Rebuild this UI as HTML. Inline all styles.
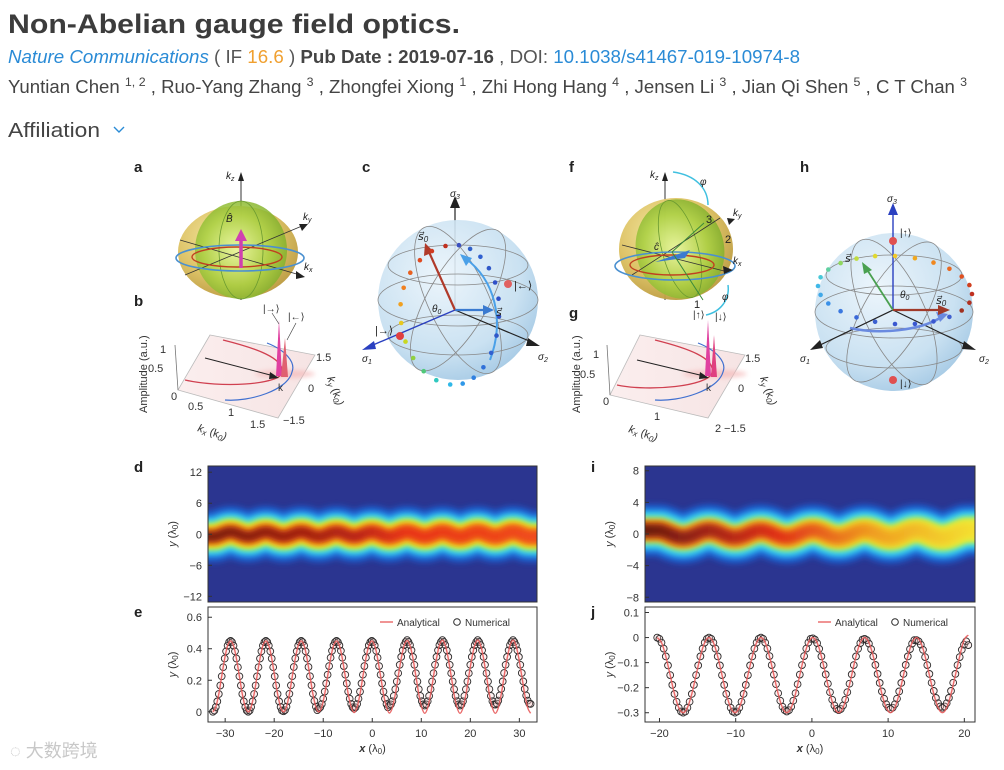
<!DOCTYPE html>
<html><head><meta charset="utf-8"><style>
html,body{margin:0;padding:0;background:#fff;}
svg{display:block;font-family:"Liberation Sans","Noto Sans CJK SC",sans-serif;}
</style></head><body>
<svg id="root" width="1004" height="770" viewBox="0 0 1004 770" xmlns="http://www.w3.org/2000/svg">
<defs>
<radialGradient id="gYel" cx="0.4" cy="0.35" r="0.7"><stop offset="0" stop-color="#f4e9a0"/><stop offset="0.6" stop-color="#dcc060"/><stop offset="1" stop-color="#b8963a"/></radialGradient>
<radialGradient id="gGrn" cx="0.45" cy="0.5" r="0.6"><stop offset="0" stop-color="#e8f8a0"/><stop offset="0.6" stop-color="#a8d040"/><stop offset="1" stop-color="#78a828"/></radialGradient>
<radialGradient id="gBlu" cx="0.4" cy="0.35" r="0.7"><stop offset="0" stop-color="#eaf4fb"/><stop offset="0.7" stop-color="#c4def0"/><stop offset="1" stop-color="#9cc4e2"/></radialGradient>
<linearGradient id="gPlane" x1="0" y1="0" x2="1" y2="0"><stop offset="0" stop-color="#fbeeee"/><stop offset="1" stop-color="#f6e4e4"/></linearGradient>
<filter id="blur" filterUnits="userSpaceOnUse" x="150" y="420" width="880" height="230"><feGaussianBlur stdDeviation="3"/></filter>
<filter id="blur2" filterUnits="userSpaceOnUse" x="200" y="340" width="600" height="70"><feGaussianBlur stdDeviation="2.5"/></filter>
<linearGradient id="coreD" gradientUnits="userSpaceOnUse" x1="208" y1="0" x2="537" y2="0"><stop offset="0" stop-color="#7a1a10"/><stop offset="0.45" stop-color="#b82212"/><stop offset="0.6" stop-color="#e83418"/><stop offset="1" stop-color="#f04a1a"/></linearGradient>
<linearGradient id="coreI" gradientUnits="userSpaceOnUse" x1="645" y1="0" x2="975" y2="0"><stop offset="0" stop-color="#6a1a10"/><stop offset="0.4" stop-color="#e03018"/><stop offset="0.7" stop-color="#f0a020"/><stop offset="1" stop-color="#f4e030"/></linearGradient>
<linearGradient id="midI" gradientUnits="userSpaceOnUse" x1="645" y1="0" x2="975" y2="0"><stop offset="0" stop-color="#f06a18"/><stop offset="0.6" stop-color="#f4c020"/><stop offset="1" stop-color="#f0e838"/></linearGradient>
<clipPath id="clipD"><rect x="208" y="466" width="329" height="136"/></clipPath>
<clipPath id="clipI"><rect x="645" y="466" width="330" height="136"/></clipPath>
</defs>

<!-- header -->
<text x="8" y="33" font-size="27" font-weight="bold" fill="#3c3c3c" textLength="452" lengthAdjust="spacingAndGlyphs">Non-Abelian gauge field optics.</text>
<text x="8" y="63" font-size="18" fill="#555" textLength="792" lengthAdjust="spacingAndGlyphs"><tspan fill="#2a8bd6" font-style="italic">Nature Communications</tspan> ( IF <tspan fill="#f0a030">16.6</tspan> ) <tspan font-weight="bold" fill="#444">Pub Date : 2019-07-16</tspan> , DOI: <tspan fill="#2a8bd6">10.1038/s41467-019-10974-8</tspan></text>
<text x="8" y="93" font-size="18" fill="#444" textLength="959" lengthAdjust="spacingAndGlyphs">Yuntian Chen <tspan font-size="12" dy="-7">1, 2</tspan><tspan dy="7"> , Ruo-Yang Zhang </tspan><tspan font-size="12" dy="-7">3</tspan><tspan dy="7"> , Zhongfei Xiong </tspan><tspan font-size="12" dy="-7">1</tspan><tspan dy="7"> , Zhi Hong Hang </tspan><tspan font-size="12" dy="-7">4</tspan><tspan dy="7"> , Jensen Li </tspan><tspan font-size="12" dy="-7">3</tspan><tspan dy="7"> , Jian Qi Shen </tspan><tspan font-size="12" dy="-7">5</tspan><tspan dy="7"> , C T Chan </tspan><tspan font-size="12" dy="-7">3</tspan></text>
<g><text x="8" y="137" font-size="20" fill="#444" textLength="92" lengthAdjust="spacingAndGlyphs">Affiliation</text><polyline points="114,127 119,132 124,127" fill="none" stroke="#2a8bd6" stroke-width="1.4"/></g>

<!-- panel labels -->
<g font-weight="bold" font-size="15" fill="#222">
<text x="134" y="172">a</text><text x="134" y="306">b</text><text x="362" y="172">c</text>
<text x="569" y="172">f</text><text x="569" y="318">g</text><text x="800" y="172">h</text>
<text x="134" y="472">d</text><text x="134" y="617">e</text><text x="591" y="472">i</text><text x="591" y="617">j</text>
</g>

<!-- panel a -->
<g>
<line x1="241" y1="300" x2="241" y2="178" stroke="#333" stroke-width="1"/>
<polygon points="241,172 238,181 244,181" fill="#222"/>
<ellipse cx="238" cy="252" rx="60" ry="46" fill="url(#gYel)" opacity="0.95"/>
<ellipse cx="241" cy="250" rx="46" ry="49" fill="url(#gGrn)" opacity="0.85"/>
<ellipse cx="241" cy="250" rx="22" ry="49" fill="none" stroke="#6a9a30" stroke-width="0.8"/>
<line x1="180" y1="240" x2="300" y2="275" stroke="#333" stroke-width="0.8"/>
<line x1="185" y1="275" x2="302" y2="226" stroke="#333" stroke-width="0.8"/>
<ellipse cx="240" cy="258" rx="64" ry="13" fill="none" stroke="#4a90d0" stroke-width="1.6"/>
<ellipse cx="237" cy="257" rx="45" ry="10" fill="none" stroke="#c04020" stroke-width="1.4"/>
<line x1="241" y1="268" x2="241" y2="238" stroke="#d040b0" stroke-width="3.5"/>
<polygon points="241,229 235,241 247,241" fill="#d040b0"/>
<polygon points="305,277 296,271 296,279" fill="#222"/>
<polygon points="308,224 299,224 302,231" fill="#222"/>
<text x="226" y="179" font-size="10" font-style="italic" fill="#222">k<tspan font-size="7" dy="2">z</tspan></text>
<text x="226" y="222" font-size="10" font-style="italic" fill="#222">B̂</text>
<text x="303" y="220" font-size="10" font-style="italic" fill="#222">k<tspan font-size="7" dy="2">y</tspan></text>
<text x="304" y="270" font-size="10" font-style="italic" fill="#222">k<tspan font-size="7" dy="2">x</tspan></text>
</g>

<!-- panel b -->
<g font-size="11" fill="#333">
<polygon points="210,335 315,355 278,418 178,390" fill="url(#gPlane)" stroke="#bbb" stroke-width="0.8"/>
<line x1="178" y1="390" x2="175" y2="345" stroke="#777" stroke-width="0.8"/>
<ellipse cx="285" cy="374" rx="30" ry="4" fill="#f4b8b8" opacity="0.7" filter="url(#blur2)"/>
<path d="M223,340 C255,348 285,358 282,373 C278,385 220,388 185,380" fill="none" stroke="#d04050" stroke-width="1.3"/>
<path d="M267,343 C285,350 296,362 292,372 C288,390 250,402 225,400" fill="none" stroke="#4070d0" stroke-width="1.2"/>
<line x1="205" y1="358" x2="274" y2="376" stroke="#222" stroke-width="1"/>
<polygon points="279,378 270,372 269,379" fill="#222"/>
<path d="M276,376 L279,320 L282,376 Z" fill="#e040a0"/>
<path d="M281,377 L285,338 L288,377 Z" fill="#e06070"/>
<line x1="272" y1="313" x2="279" y2="324" stroke="#333" stroke-width="0.6"/>
<line x1="296" y1="323" x2="287" y2="340" stroke="#333" stroke-width="0.6"/>
<text x="263" y="312" font-size="10">|→⟩</text><text x="288" y="320" font-size="10">|←⟩</text>
<text x="278" y="391" font-size="10">k</text>
<text x="160" y="353">1</text><text x="148" y="372">0.5</text><text x="171" y="400">0</text>
<text x="188" y="410">0.5</text><text x="228" y="416">1</text><text x="250" y="428">1.5</text>
<text x="316" y="361">1.5</text><text x="308" y="392">0</text><text x="283" y="424">−1.5</text>
<text transform="translate(147,413) rotate(-90)" font-size="11">Amplitude (a.u.)</text>
<text transform="translate(197,431) rotate(18)" font-size="11" font-style="italic">k<tspan font-size="8" dy="2">x</tspan><tspan dy="-2" font-style="normal"> (k</tspan><tspan font-size="8" dy="2">0</tspan><tspan dy="-2">)</tspan></text>
<text transform="translate(327,378) rotate(70)" font-size="11" font-style="italic">k<tspan font-size="8" dy="2">y</tspan><tspan dy="-2" font-style="normal"> (k</tspan><tspan font-size="8" dy="2">0</tspan><tspan dy="-2">)</tspan></text>
</g>

<!-- panel c -->
<g>
<line x1="455" y1="310" x2="455" y2="200" stroke="#222" stroke-width="1.2"/>
<polygon points="455,196 450,208 460,208" fill="#222"/>
<circle cx="458" cy="300" r="80" fill="url(#gBlu)" opacity="0.9"/>
<g fill="none" stroke="#888" stroke-width="0.8">
<ellipse cx="458" cy="300" rx="80" ry="26"/><ellipse cx="458" cy="265" rx="70" ry="20"/><ellipse cx="458" cy="335" rx="70" ry="20"/>
<ellipse cx="458" cy="300" rx="30" ry="80" transform="rotate(-25 458 300)"/><ellipse cx="458" cy="300" rx="30" ry="80" transform="rotate(30 458 300)"/>
</g>
<line x1="455" y1="310" x2="366" y2="348" stroke="#2a40c0" stroke-width="1.4"/>
<polygon points="362,350 374,341 376,349" fill="#2a40c0"/>
<line x1="455" y1="310" x2="534" y2="343" stroke="#222" stroke-width="1.2"/>
<polygon points="540,346 528,338 526,346" fill="#222"/>
<line x1="455" y1="310" x2="429" y2="252" stroke="#b03a2a" stroke-width="2.2"/>
<polygon points="425,243 424,256 434,252" fill="#b03a2a"/>
<line x1="455" y1="310" x2="485" y2="310" stroke="#3a7ad0" stroke-width="2.2"/>
<polygon points="494,310 483,305 483,315" fill="#3a7ad0"/>
<path d="M490,360 C505,320 495,280 465,258" fill="none" stroke="#4aa0e8" stroke-width="2"/>
<polygon points="460,254 472,258 466,266" fill="#4aa0e8"/>
<g id="dotsC"></g>
<circle cx="400" cy="336" r="4" fill="#e04040"/><circle cx="508" cy="284" r="4" fill="#e06060"/>
<text x="375" y="334" font-size="11" fill="#222">|→⟩</text><text x="514" y="289" font-size="11" fill="#222">|←⟩</text>
<text x="418" y="240" font-size="11" fill="#222" font-style="italic">s⃗<tspan font-size="8" dy="2">0</tspan></text>
<text x="496" y="316" font-size="11" fill="#222" font-style="italic">s⃗</text>
<text x="432" y="312" font-size="10" fill="#222" font-style="italic">θ<tspan font-size="7" dy="2">0</tspan></text>
<text x="450" y="197" font-size="10" fill="#222" font-style="italic">σ<tspan font-size="7" dy="2">3</tspan></text>
<text x="362" y="362" font-size="10" fill="#222" font-style="italic">σ<tspan font-size="7" dy="2">1</tspan></text>
<text x="538" y="360" font-size="10" fill="#222" font-style="italic">σ<tspan font-size="7" dy="2">2</tspan></text>
</g>

<!-- panel f -->
<g>
<line x1="665" y1="300" x2="665" y2="178" stroke="#333" stroke-width="1"/>
<polygon points="665,172 662,181 668,181" fill="#222"/>
<ellipse cx="676" cy="249" rx="57" ry="51" fill="url(#gYel)" opacity="0.95"/>
<ellipse cx="680" cy="249" rx="44" ry="50" fill="url(#gGrn)" opacity="0.85" transform="rotate(-15 680 249)"/>
<ellipse cx="680" cy="249" rx="18" ry="50" fill="none" stroke="#6a9a30" stroke-width="0.8" transform="rotate(-15 680 249)"/>
<line x1="622" y1="245" x2="728" y2="272" stroke="#333" stroke-width="0.8"/>
<line x1="632" y1="275" x2="720" y2="218" stroke="#333" stroke-width="0.8"/>
<ellipse cx="675" cy="266" rx="60" ry="14" fill="none" stroke="#4a90d0" stroke-width="1.6"/>
<ellipse cx="672" cy="265" rx="42" ry="10" fill="none" stroke="#c04020" stroke-width="1.4"/>
<path d="M655,262 L690,250 L685,258 Z" fill="#3a7ad0"/>
<path d="M673,172 C695,175 708,188 708,205" fill="none" stroke="#40c0e0" stroke-width="1.5"/>
<path d="M728,285 C730,300 720,312 706,315" fill="none" stroke="#40c0e0" stroke-width="1.5"/>
<line x1="672" y1="252" x2="704" y2="223" stroke="#3a8a3a" stroke-width="1"/>
<line x1="672" y1="252" x2="703" y2="300" stroke="#3a8a3a" stroke-width="1"/>
<polygon points="733,270 723,266 724,274" fill="#222"/>
<polygon points="735,219 727,218 729,225" fill="#222"/>
<text x="650" y="178" font-size="10" font-style="italic" fill="#222">k<tspan font-size="7" dy="2">z</tspan></text>
<text x="700" y="185" font-size="10" font-style="italic" fill="#222">φ</text>
<text x="722" y="300" font-size="10" font-style="italic" fill="#222">φ</text>
<text x="706" y="223" font-size="11" fill="#222">3</text><text x="725" y="243" font-size="11" fill="#222">2</text><text x="694" y="308" font-size="11" fill="#222">1</text>
<text x="733" y="216" font-size="10" font-style="italic" fill="#222">k<tspan font-size="7" dy="2">y</tspan></text>
<text x="733" y="264" font-size="10" font-style="italic" fill="#222">k<tspan font-size="7" dy="2">x</tspan></text>
<text x="654" y="250" font-size="10" font-style="italic" fill="#222">ĉ</text>
</g>

<!-- panel g -->
<g font-size="11" fill="#333">
<polygon points="640,335 745,355 708,418 610,395" fill="url(#gPlane)" stroke="#bbb" stroke-width="0.8"/>
<line x1="610" y1="395" x2="607" y2="345" stroke="#777" stroke-width="0.8"/>
<ellipse cx="715" cy="374" rx="32" ry="4" fill="#f4b8b8" opacity="0.7" filter="url(#blur2)"/>
<path d="M655,340 C687,348 716,358 712,373 C708,386 650,392 617,385" fill="none" stroke="#d04050" stroke-width="1.3"/>
<path d="M698,343 C716,350 727,362 723,372 C718,390 680,402 655,400" fill="none" stroke="#4070d0" stroke-width="1.2"/>
<line x1="637" y1="360" x2="704" y2="376" stroke="#222" stroke-width="1"/>
<polygon points="709,378 700,372 699,379" fill="#222"/>
<path d="M705,376 L708,320 L711,376 Z" fill="#e040a0"/>
<path d="M711,377 L714,335 L717,377 Z" fill="#e04080"/>
<text x="693" y="318" font-size="10">|↑⟩</text><text x="715" y="320" font-size="10">|↓⟩</text>
<text x="706" y="391" font-size="10">k</text>
<text x="593" y="358">1</text><text x="580" y="378">0.5</text><text x="603" y="405">0</text>
<text x="654" y="420">1</text><text x="715" y="432">2</text><text x="724" y="432">−1.5</text>
<text x="745" y="362">1.5</text><text x="738" y="392">0</text>
<text transform="translate(580,413) rotate(-90)" font-size="11">Amplitude (a.u.)</text>
<text transform="translate(628,432) rotate(18)" font-size="11" font-style="italic">k<tspan font-size="8" dy="2">x</tspan><tspan dy="-2" font-style="normal"> (k</tspan><tspan font-size="8" dy="2">0</tspan><tspan dy="-2">)</tspan></text>
<text transform="translate(760,378) rotate(70)" font-size="11" font-style="italic">k<tspan font-size="8" dy="2">y</tspan><tspan dy="-2" font-style="normal"> (k</tspan><tspan font-size="8" dy="2">0</tspan><tspan dy="-2">)</tspan></text>
</g>

<!-- panel h -->
<g>
<circle cx="894" cy="312" r="79" fill="url(#gBlu)" opacity="0.9"/>
<g fill="none" stroke="#888" stroke-width="0.8">
<ellipse cx="894" cy="312" rx="79" ry="26"/><ellipse cx="894" cy="275" rx="68" ry="20"/><ellipse cx="894" cy="348" rx="68" ry="20"/>
<ellipse cx="894" cy="312" rx="30" ry="79" transform="rotate(-25 894 312)"/><ellipse cx="894" cy="312" rx="30" ry="79" transform="rotate(30 894 312)"/>
</g>
<line x1="893" y1="310" x2="893" y2="210" stroke="#2a40c0" stroke-width="1.4"/>
<polygon points="893,203 888,215 898,215" fill="#2a40c0"/>
<line x1="893" y1="310" x2="816" y2="347" stroke="#222" stroke-width="1.2"/>
<polygon points="810,350 820,340 823,348" fill="#222"/>
<line x1="893" y1="310" x2="970" y2="347" stroke="#222" stroke-width="1.2"/>
<polygon points="976,350 964,341 962,349" fill="#222"/>
<path d="M850,328 C880,335 920,330 940,318" fill="none" stroke="#6a8ae0" stroke-width="2.5"/>
<polygon points="948,314 936,312 940,322" fill="#6a8ae0"/>
<g id="dotsH"></g>
<line x1="893" y1="310" x2="866" y2="268" stroke="#4aa050" stroke-width="1.8"/>
<polygon points="862,262 864,274 872,270" fill="#4aa050"/>
<line x1="893" y1="310" x2="940" y2="310" stroke="#a03a2a" stroke-width="2.2"/>
<polygon points="950,310 938,305 938,315" fill="#a03a2a"/>
<circle cx="893" cy="241" r="4" fill="#e05050"/><circle cx="893" cy="380" r="4" fill="#e05050"/>
<text x="900" y="236" font-size="10" fill="#222">|↑⟩</text><text x="900" y="387" font-size="10" fill="#222">|↓⟩</text>
<text x="845" y="262" font-size="11" fill="#222" font-style="italic">s⃗</text>
<text x="936" y="304" font-size="11" fill="#222" font-style="italic">s⃗<tspan font-size="8" dy="2">0</tspan></text>
<text x="900" y="298" font-size="10" fill="#222" font-style="italic">θ<tspan font-size="7" dy="2">0</tspan></text>
<text x="887" y="202" font-size="10" fill="#222" font-style="italic">σ<tspan font-size="7" dy="2">3</tspan></text>
<text x="800" y="362" font-size="10" fill="#222" font-style="italic">σ<tspan font-size="7" dy="2">1</tspan></text>
<text x="979" y="362" font-size="10" fill="#222" font-style="italic">σ<tspan font-size="7" dy="2">2</tspan></text>
</g>

<g id="charts"></g>

<text x="10" y="757" font-size="18" fill="#c8c8c8">◌ 大数跨境</text>
</svg>
<script>
// ---- Panel e numerical data (y in λ0), x from -32.5 step 0.3 ----
const eNumXStart = -32.5, eNumXStep = 0.3;
const eNumerical = [
0,.008,.030,.066,.113,.167,.225,.283,.338,.384,.420,.442,.45,.442,.420,.384,.338,.283,.225,.167,.113,.066,.030,.008,
0,.008,.030,.066,.113,.167,.225,.283,.338,.384,.420,.442,.45,.442,.420,.384,.338,.283,.225,.167,.113,.066,.030,.008,
.003,.010,.032,.068,.114,.168,.226,.284,.338,.384,.420,.442,.45,.442,.420,.384,.338,.284,.226,.168,.114,.068,.032,.010,
.02,.028,.049,.083,.128,.180,.235,.290,.343,.387,.421,.442,.45,.442,.421,.387,.343,.290,.235,.180,.128,.083,.049,.028,
.02,.028,.049,.083,.128,.180,.235,.290,.343,.387,.421,.442,.45,.442,.421,.387,.343,.290,.235,.180,.128,.083,.049,.028,
.04,.047,.067,.100,.143,.192,.245,.298,.348,.390,.423,.443,.455,.443,.423,.390,.348,.298,.245,.192,.143,.100,.067,.047,
.04,.047,.067,.100,.143,.192,.245,.298,.348,.390,.423,.443,.455,.443,.423,.390,.348,.298,.245,.192,.143,.100,.067,.047,
.04,.047,.067,.100,.143,.192,.245,.298,.348,.390,.423,.443,.455,.443,.423,.390,.348,.298,.245,.192,.143,.100,.067,.047,
.045,.052,.071,.103,.145,.193,.246,.298,.348,.390,.423,.443,.455,.443,.423,.390,.348,.298,.246,.193,.145,.103,.071,.052,
.05];
// ---- Panel e analytical, x from -32.5 step 0.6 ----
const eAnaXStart = -32.5, eAnaXStep = 0.6;
const eAnalytical = [
0,.030,.113,.225,.338,.420,.45,.420,.338,.225,.113,.030,
0,.030,.113,.225,.338,.420,.45,.420,.338,.225,.113,.030,
0,.030,.113,.225,.338,.420,.45,.420,.338,.225,.113,.030,
0,.030,.113,.225,.338,.420,.45,.420,.338,.225,.113,.030,
-.005,.028,.112,.225,.338,.420,.45,.420,.338,.225,.112,.028,
-.008,.026,.111,.225,.338,.420,.452,.420,.338,.225,.111,.026,
-.01,.025,.11,.225,.338,.421,.455,.421,.338,.225,.11,.025,
-.01,.025,.11,.225,.338,.421,.455,.421,.338,.225,.11,.025,
-.01,.025,.11,.225,.338,.421,.455,.421,.338,.225,.11,.025,
-.01];
const eXTicks = [-30,-20,-10,0,10,20,30];
const eYTicks = [0,0.2,0.4,0.6];
const eYLabels = ['0','0.2','0.4','0.6'];
const dYTicks = [12,6,0,-6,-12];
const dYLabels = ['12','6','0','−6','−12'];
// ---- Panel j numerical, x from -20.3 step 0.2835 ----
const jNumXStart = -20.3, jNumXStep = 0.2835;
const jNumerical = [
0,-.005,-.02,-.044,-.075,-.111,-.15,-.189,-.225,-.256,-.28,-.295,-.3,-.295,-.28,-.256,-.225,-.189,-.15,-.111,-.075,-.044,-.02,-.005,
0,-.005,-.02,-.044,-.075,-.111,-.15,-.189,-.225,-.256,-.28,-.295,-.3,-.295,-.28,-.256,-.225,-.189,-.15,-.111,-.075,-.044,-.02,-.005,
0,-.005,-.02,-.044,-.074,-.110,-.148,-.186,-.222,-.252,-.276,-.290,-.295,-.290,-.276,-.252,-.222,-.186,-.148,-.110,-.074,-.044,-.02,-.005,
-.003,-.008,-.022,-.045,-.075,-.110,-.147,-.184,-.218,-.248,-.271,-.285,-.29,-.285,-.271,-.248,-.218,-.184,-.147,-.110,-.075,-.045,-.022,-.008,
-.005,-.01,-.024,-.046,-.075,-.109,-.145,-.181,-.215,-.244,-.266,-.28,-.285,-.28,-.266,-.244,-.215,-.181,-.145,-.109,-.075,-.046,-.024,-.01,
-.01,-.015,-.028,-.049,-.078,-.110,-.145,-.180,-.213,-.241,-.262,-.275,-.28,-.275,-.262,-.241,-.213,-.180,-.145,-.110,-.078,-.049,-.028,-.015,
-.03];
// ---- Panel j analytical, x from -20.3 step 0.567 ----
const jAnaXStart = -20.3, jAnaXStep = 0.567;
const jAnalytical = [
0,-.02,-.075,-.15,-.225,-.28,-.3,-.28,-.225,-.15,-.075,-.02,
0,-.02,-.075,-.15,-.225,-.28,-.3,-.28,-.225,-.15,-.075,-.02,
0,-.02,-.075,-.15,-.225,-.28,-.3,-.28,-.225,-.15,-.075,-.02,
0,-.02,-.075,-.15,-.225,-.28,-.3,-.28,-.225,-.15,-.075,-.02,
0,-.02,-.075,-.15,-.225,-.28,-.3,-.28,-.225,-.15,-.075,-.02,
0,-.02,-.075,-.15,-.225,-.28,-.3,-.28,-.225,-.15,-.075,-.01,
.01];
const jXTicks = [-20,-10,0,10,20];
const jYTicks = [0.1,0,-0.1,-0.2,-0.3];
const jYLabels = ['0.1','0','−0.1','−0.2','−0.3'];
const iYTicks = [8,4,0,-4,-8];
const iYLabels = ['8','4','0','−4','−8'];

const NS = 'http://www.w3.org/2000/svg';
const charts = document.getElementById('charts');
function mk(tag, attrs, parent){const e=document.createElementNS(NS,tag);for(const k in attrs)e.setAttribute(k,attrs[k]);(parent||charts).appendChild(e);return e;}
function lin(d0,d1,r0,r1){return v=>r0+(v-d0)*(r1-r0)/(d1-d0);}
function smooth(pts){let d='M'+pts[0][0]+','+pts[0][1];for(let i=0;i<pts.length-1;i++){const p0=pts[Math.max(0,i-1)],p1=pts[i],p2=pts[i+1],p3=pts[Math.min(pts.length-1,i+2)];d+=' C'+(p1[0]+(p2[0]-p0[0])/6).toFixed(1)+','+(p1[1]+(p2[1]-p0[1])/6).toFixed(1)+' '+(p2[0]-(p3[0]-p1[0])/6).toFixed(1)+','+(p2[1]-(p3[1]-p1[1])/6).toFixed(1)+' '+p2[0].toFixed(1)+','+p2[1].toFixed(1);}return d;}

function yLabel(x,y){const t=mk('text',{transform:'translate('+x+','+y+') rotate(-90)','font-size':'11',fill:'#333','text-anchor':'middle'});t.innerHTML='<tspan font-style="italic">y</tspan> (λ<tspan font-size="8" dy="2">0</tspan><tspan dy="-2">)</tspan>';return t;}

function heatmap(opt){
  const g=mk('g',{'clip-path':'url(#'+opt.clip+')'});
  
  
  mk('rect',{x:opt.x0,y:opt.y0,width:opt.x1-opt.x0,height:opt.y1-opt.y0,fill:'#2b3590'},g);
  const sx=lin(opt.dx0,opt.dx1,opt.x0,opt.x1), sy=lin(opt.dy0,opt.dy1,opt.y1,opt.y0);
  const pts=opt.center.map((v,i)=>[sx(opt.cx0+i*opt.cstep),sy((v-opt.cmean)*opt.camp)]);
  pts.unshift([opt.x0-20,pts[0][1]]);pts.push([opt.x1+20,pts[pts.length-1][1]]);
  const d=smooth(pts);
  opt.layers.forEach(L=>{mk('path',{d:d,fill:'none',stroke:L[1],'stroke-width':(Math.abs(sy(L[0])-sy(-L[0]))).toFixed(1),filter:'url(#blur)',opacity:L[2]||1},g);});
  mk('rect',{x:opt.x0,y:opt.y0,width:opt.x1-opt.x0,height:opt.y1-opt.y0,fill:'none',stroke:'#333','stroke-width':'1'});
  opt.ticks.forEach((v,i)=>{const y=sy(v);
    mk('line',{x1:opt.x0,y1:y,x2:opt.x0+4,y2:y,stroke:'#333'});
    const t=mk('text',{x:opt.x0-6,y:y+4,'font-size':'11',fill:'#333','text-anchor':'end'});t.textContent=opt.labels[i];
    
    });
  const yl=yLabel(opt.x0-32,(opt.y0+opt.y1)/2);
  
  
}

function linePanel(opt){
  const sx=lin(opt.dx0,opt.dx1,opt.x0,opt.x1), sy=lin(opt.dy0,opt.dy1,opt.y1,opt.y0);
  const frame=mk('rect',{x:opt.x0,y:opt.y0,width:opt.x1-opt.x0,height:opt.y1-opt.y0,fill:'#fff',stroke:'#333','stroke-width':'1'});
  
  
  const g=mk('g',{});
  
  
  opt.num.forEach((v,i)=>{const c=mk('circle',{cx:sx(opt.nxs+i*opt.nstep).toFixed(1),cy:sy(v).toFixed(1),r:'3.4',fill:'rgba(250,200,200,0.25)',stroke:'#2a2a2a','stroke-width':'0.9'},g);
    
    });
  const pts=opt.ana.map((v,i)=>[sx(opt.axs+i*opt.astep),sy(v)]);
  const ln=mk('path',{d:smooth(pts),fill:'none',stroke:'#e85a5a','stroke-width':'1.4',opacity:'0.9'});
  
  
  opt.xticks.forEach(v=>{const x=sx(v);
    mk('line',{x1:x,y1:opt.y1,x2:x,y2:opt.y1-4,stroke:'#333'});
    const t=mk('text',{x:x,y:opt.y1+15,'font-size':'11',fill:'#333','text-anchor':'middle'});t.textContent=v<0?'−'+(-v):String(v);
    
    });
  opt.yticks.forEach((v,i)=>{const y=sy(v);
    mk('line',{x1:opt.x0,y1:y,x2:opt.x0+4,y2:y,stroke:'#333'});
    const t=mk('text',{x:opt.x0-6,y:y+4,'font-size':'11',fill:'#333','text-anchor':'end'});t.textContent=opt.ylabels[i];
    
    });
  const yl=yLabel(opt.x0-32,(opt.y0+opt.y1)/2);
  
  
  const xl=mk('text',{x:(opt.x0+opt.x1)/2,y:opt.y1+30,'font-size':'11',fill:'#333','text-anchor':'middle'});
  xl.innerHTML='<tspan font-style="italic" font-weight="bold">x</tspan> (λ<tspan font-size="8" dy="2">0</tspan><tspan dy="-2">)</tspan>';
  
  
  const lg=mk('g',{'font-size':'10',fill:'#333'});
  
  
  const lx=opt.x1-157, ly=opt.y0+15;
  mk('line',{x1:lx,y1:ly,x2:lx+13,y2:ly,stroke:'#e85a5a','stroke-width':'1.3'},lg);
  const t1=mk('text',{x:lx+17,y:ly+4},lg);t1.textContent='Analytical';
  mk('circle',{cx:lx+77,cy:ly,r:'3.3',fill:'none',stroke:'#2a2a2a'},lg);
  const t2=mk('text',{x:lx+85,y:ly+4},lg);t2.textContent='Numerical';
}

heatmap({name:'panel-d-heatmap',clip:'clipD',x0:208,x1:537,y0:466,y1:602,dx0:-33.5,dx1:33.6,dy0:-13.1,dy1:13.2,
  center:eAnalytical,cx0:eAnaXStart,cstep:eAnaXStep,cmean:0.225,camp:2,ticks:dYTicks,labels:dYLabels,
  layers:[[5.0,'#1f5fd0',0.9],[3.9,'#2aa8f0'],[3.2,'#40e0e8'],[2.5,'#c0f040'],[2.1,'#f4e020'],[1.6,'#f07018'],[1.0,'url(#coreD)']]});
linePanel({name:'panel-e',x0:208,x1:537,y0:607,y1:722,dx0:-33.5,dx1:33.6,dy0:-0.065,dy1:0.665,
  num:eNumerical,ana:eAnalytical,nxs:eNumXStart,nstep:eNumXStep,axs:eAnaXStart,astep:eAnaXStep,xticks:eXTicks,yticks:eYTicks,ylabels:eYLabels});
heatmap({name:'panel-i-heatmap',clip:'clipI',x0:645,x1:975,y0:466,y1:602,dx0:-21.9,dx1:21.4,dy0:-8.6,dy1:8.6,
  center:jAnalytical,cx0:jAnaXStart,cstep:jAnaXStep,cmean:-0.15,camp:3,ticks:iYTicks,labels:iYLabels,
  layers:[[3.3,'#1f5fd0',0.9],[2.6,'#2aa8f0'],[2.1,'#40e0e8'],[1.6,'#c8f040'],[1.3,'url(#midI)'],[0.8,'url(#coreI)']]});
linePanel({name:'panel-j',x0:645,x1:975,y0:607,y1:722,dx0:-21.9,dx1:21.4,dy0:-0.337,dy1:0.122,
  num:jNumerical,ana:jAnalytical,nxs:jNumXStart,nstep:jNumXStep,axs:jAnaXStart,astep:jAnaXStep,xticks:jXTicks,yticks:jYTicks,ylabels:jYLabels});

// sphere trajectory dots (angle in degrees along path, color)
const cDotAngles=[100,115,130,145,160,175,190,205,220,235,250,265,280,295,310,325,340,355,10,25,40,55,70,85];
const cDotColors=['#c03020','#d03a20','#e04a20','#e86020','#f08020','#f0a020','#e8c820','#c8d820','#90d040','#50c878','#30c8c0','#30b8e8','#3098e8','#3080e0','#3070d8','#3060d0','#3058c8','#3050c8','#3050c8','#3050c8','#3058c8','#3060d0','#3060c8','#3a50c0'];
const gC=document.getElementById('dotsC');
cDotAngles.forEach((a,i)=>{const r=a*Math.PI/180;const x=455+52*Math.cos(r)*(a>90&&a<270?1.05:0.85),y=310-65*Math.sin(r)*(a>180&&a<360?1.15:1);
  const c=mk('circle',{cx:x.toFixed(1),cy:y.toFixed(1),r:'2.3',fill:cDotColors[i]},gC);
  
  });
const hDotAngles=[180,165,150,135,120,105,90,75,60,45,30,15,0,345,330,315,300,285,270,255,240,225,210,195];
const hDotColors=['#40b8e8','#48c8d8','#60d0a0','#90d860','#c0dc40','#e0d830','#f0c828','#f0a820','#f08820','#e86820','#e05020','#d04020','#c03020','#b03020','#a03020','#4060d0','#3a58d0','#3a58d0','#3a58d0','#3a60d0','#3a68d8','#3a78e0','#3a90e8','#40a8e8'];
const gH=document.getElementById('dotsH');
hDotAngles.forEach((a,i)=>{const r=a*Math.PI/180;const x=895+77*Math.cos(r),y=290-34*Math.sin(r)+4*Math.cos(r);
  const c=mk('circle',{cx:x.toFixed(1),cy:y.toFixed(1),r:'2.3',fill:hDotColors[i]},gH);
  
  });
</script>
</body></html>
